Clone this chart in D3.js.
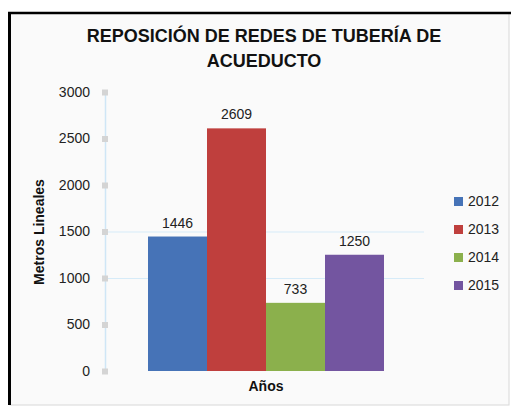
<!DOCTYPE html>
<html lang="es">
<head>
  <meta charset="UTF-8">
  <title>Reposición de redes de tubería de acueducto</title>
  <script src="https://d3js.org/d3.v7.min.js"></script>
  <style>
    body { margin: 0; background: #fff; }
    text { font-family: "Liberation Sans", Arial, sans-serif; }
  </style>
</head>
<body>
  <svg width="511" height="407"></svg>

  <script>
    // data
    const years = ["2012", "2013", "2014", "2015"];
    const metros = [1446, 2609, 733, 1250];
    const colors = ["#4673b7", "#bf3f3d", "#8bb04c", "#7355a0"];
    const yTicks = [0, 500, 1000, 1500, 2000, 2500, 3000];
    const gridTicks = [1000, 1500];

    const svg = d3.select("svg");

    // frame
    svg.append("rect")
        .attr("x", 10).attr("y", 13)
        .attr("width", 499).attr("height", 392)
        .attr("fill", "#fafafa")
        .attr("stroke", "#d8d8d8");
    svg.append("line")
        .attr("x1", 9.5).attr("x2", 9.5).attr("y1", 12).attr("y2", 405)
        .attr("stroke", "#000").attr("stroke-width", 3);
    svg.append("line")
        .attr("x1", 8).attr("x2", 511).attr("y1", 13).attr("y2", 13)
        .attr("stroke", "#000").attr("stroke-width", 2.5);

    // title
    const title = svg.append("text")
        .attr("x", 264).attr("text-anchor", "middle")
        .attr("font-weight", "bold").attr("font-size", 18).attr("fill", "#111");
    title.append("tspan").attr("x", 264).attr("y", 42).text("REPOSICIÓN DE REDES DE TUBERÍA DE");
    title.append("tspan").attr("x", 264).attr("y", 67).text("ACUEDUCTO");

    const y = d3.scaleLinear().domain([0, 3000]).range([371, 92]);
    const x = d3.scaleBand().domain(years).range([148, 384]).padding(0);

    // faint gridlines
    svg.append("g").selectAll("line")
        .data(gridTicks)
        .enter().append("line")
        .attr("x1", 108).attr("x2", 424)
        .attr("y1", d => y(d) + 0.5).attr("y2", d => y(d) + 0.5)
        .attr("stroke", "#d6ebf8");

    // y axis
    const yAxis = svg.append("g")
        .attr("transform", "translate(105,0)")
        .call(d3.axisLeft(y).tickValues(yTicks).tickFormat(d3.format("d"))
            .tickSize(0).tickPadding(15));
    yAxis.select(".domain").attr("stroke", "#cfe6f6").attr("stroke-width", 1.5);
    yAxis.selectAll(".tick text")
        .attr("font-size", 14).attr("fill", "#222")
        .style("font-family", "'Liberation Sans', Arial, sans-serif");
    yAxis.selectAll(".tick").append("rect")
        .attr("x", -3).attr("y", -3).attr("width", 6).attr("height", 6)
        .attr("fill", "#d4d4d4");

    // bars
    svg.append("g").selectAll("rect")
        .data(metros)
        .enter().append("rect")
        .attr("x", (d, i) => x(years[i]))
        .attr("y", d => y(d))
        .attr("width", x.bandwidth())
        .attr("height", d => y(0) - y(d))
        .attr("fill", (d, i) => colors[i]);

    // value labels
    svg.append("g").selectAll("text")
        .data(metros)
        .enter().append("text")
        .attr("x", (d, i) => x(years[i]) + x.bandwidth() / 2)
        .attr("y", d => y(d) - 9)
        .attr("text-anchor", "middle")
        .attr("font-size", 14).attr("fill", "#222")
        .text(d => d);

    // axis titles
    svg.append("text")
        .attr("x", 266).attr("y", 391)
        .attr("text-anchor", "middle")
        .attr("font-weight", "bold").attr("font-size", 14).attr("fill", "#111")
        .text("Años");
    svg.append("text")
        .attr("transform", "translate(44,232) rotate(-90)")
        .attr("text-anchor", "middle")
        .attr("font-weight", "bold").attr("font-size", 14).attr("fill", "#111")
        .text("Metros Lineales");

    // legend
    const legend = svg.append("g").selectAll("g")
        .data(years)
        .enter().append("g")
        .attr("transform", (d, i) => `translate(454,${201 + i * 28})`);
    legend.append("rect")
        .attr("x", 0).attr("y", -4).attr("width", 9).attr("height", 9)
        .attr("fill", (d, i) => colors[i]);
    legend.append("text")
        .attr("x", 14).attr("y", 5)
        .attr("font-size", 14).attr("fill", "#222")
        .text(d => d);
  </script>
</body>
</html>
